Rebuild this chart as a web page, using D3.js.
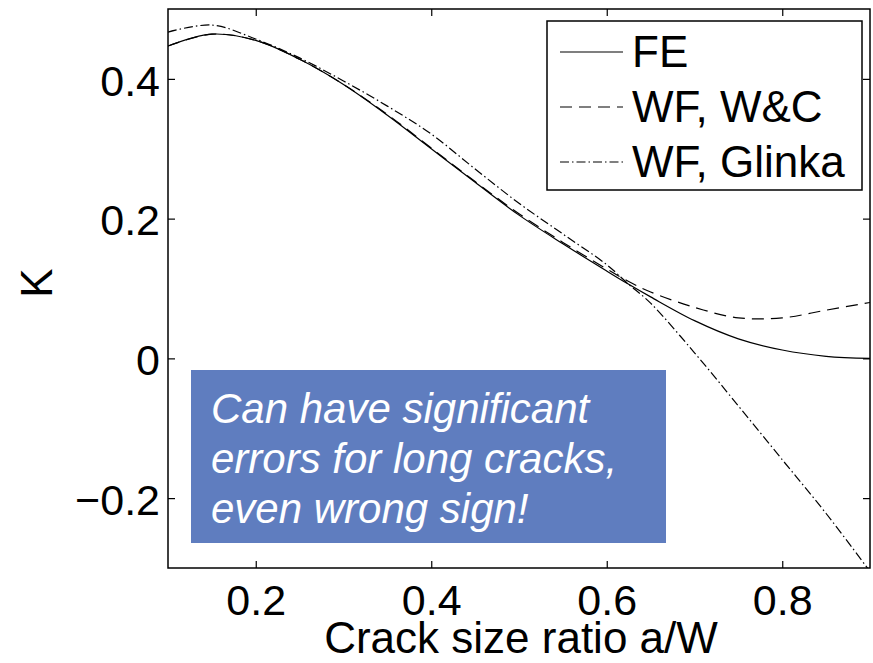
<!DOCTYPE html>
<html>
<head>
<meta charset="utf-8">
<script src="https://cdn.jsdelivr.net/npm/d3@7"></script>
<style>
  body { margin: 0; background: #fff; }
  svg { font-family: "Liberation Sans", Arial, Helvetica, sans-serif; }
  .tickLabels text { font-size: 43px; fill: #000; }
  .axisLabel { font-size: 44px; fill: #000; }
  .legendText { font-size: 44px; fill: #000; }
  .noteText { font-size: 42px; fill: #fff; font-style: italic; }
</style>
</head>
<body>
<div id="chart"></div>
<script>
// crack size ratio a/W
const crackRatio = [0.10, 0.15, 0.20, 0.25, 0.30, 0.35, 0.40, 0.45, 0.50, 0.55, 0.60, 0.625, 0.65, 0.70, 0.75, 0.80, 0.85, 0.90];

// K values
const kFE      = [0.447, 0.464, 0.455, 0.428, 0.392, 0.348, 0.300, 0.252, 0.205, 0.164, 0.125, 0.106, 0.088, 0.054, 0.028, 0.012, 0.003, 0.000];
const kWC      = [0.447, 0.464, 0.455, 0.428, 0.392, 0.349, 0.301, 0.253, 0.207, 0.166, 0.128, 0.110, 0.095, 0.073, 0.058, 0.058, 0.069, 0.080];
const kGlinka  = [0.467, 0.477, 0.457, 0.430, 0.397, 0.361, 0.321, 0.271, 0.222, 0.178, 0.134, 0.106, 0.079, 0.008, -0.068, -0.145, -0.222, -0.305];

const seriesNames = ["FE", "WF, W&C", "WF, Glinka"];
const seriesDash = ["none", "12,7", "9,3,1.5,3"];

const xTicks = [0.2, 0.4, 0.6, 0.8];
const yTicks = [-0.2, 0, 0.2, 0.4];

const noteLines = ["Can have significant", "errors for long cracks,", "even wrong sign!"];

const W = 873, H = 663;
const plot = { left: 168, right: 870, top: 9, bottom: 568 };

const svg = d3.select("#chart").append("svg")
    .attr("width", W)
    .attr("height", H);

const x = d3.scaleLinear().domain([0.1, 0.9]).range([plot.left, plot.right]);
const y = d3.scaleLinear().domain([-0.3, 0.5]).range([plot.bottom, plot.top]);

svg.append("clipPath").attr("id", "plotClip")
  .append("rect")
    .attr("x", plot.left).attr("y", plot.top)
    .attr("width", plot.right - plot.left).attr("height", plot.bottom - plot.top);

// axes, ticks pointing inwards on all four sides
const fmt = d3.format(".1f");
let bottomAxis = d3.axisBottom(x).tickValues(xTicks).tickFormat(d => fmt(d)).tickSizeInner(-7).tickSizeOuter(0).tickPadding(16);
let leftAxis = d3.axisLeft(y).tickValues(yTicks).tickFormat(d => d === 0 ? "0" : fmt(d)).tickSizeInner(-7).tickSizeOuter(0).tickPadding(8);
let topAxis = d3.axisTop(x).tickValues(xTicks).tickFormat("").tickSizeInner(-7).tickSizeOuter(0);
let rightAxis = d3.axisRight(y).tickValues(yTicks).tickFormat("").tickSizeInner(-7).tickSizeOuter(0);

svg.append("g").attr("class", "tickLabels").attr("transform", "translate(0," + plot.bottom + ")").call(bottomAxis);
svg.append("g").attr("class", "tickLabels").attr("transform", "translate(" + plot.left + ",0)").call(leftAxis)
    .selectAll("text").attr("dy", "0.38em");
svg.append("g").attr("transform", "translate(0," + plot.top + ")").call(topAxis);
svg.append("g").attr("transform", "translate(" + plot.right + ",0)").call(rightAxis);

svg.selectAll(".domain").remove();
svg.selectAll(".tick line").attr("stroke", "#000").attr("stroke-width", 1.2);
svg.selectAll(".tick text").attr("font-family", null).attr("font-size", null);

// frame
svg.append("rect")
    .attr("x", plot.left).attr("y", plot.top)
    .attr("width", plot.right - plot.left).attr("height", plot.bottom - plot.top)
    .attr("fill", "none").attr("stroke", "#000").attr("stroke-width", 1.5);

// curves
const allSeries = [kFE, kWC, kGlinka].map((vals, i) => ({
    name: seriesNames[i],
    dash: seriesDash[i],
    data: crackRatio.map((a, j) => ({ a: a, k: vals[j] }))
}));

const lineGen = d3.line()
    .x(d => x(d.a))
    .y(d => y(d.k))
    .curve(d3.curveCatmullRom.alpha(0.5));

svg.append("g").attr("clip-path", "url(#plotClip)")
  .selectAll(".curve").data(allSeries).join("path")
    .attr("class", "curve")
    .attr("d", d => lineGen(d.data))
    .attr("fill", "none")
    .attr("stroke", "#000")
    .attr("stroke-width", 1.2)
    .attr("stroke-dasharray", d => d.dash);

// axis labels
svg.append("text")
    .attr("class", "axisLabel")
    .attr("x", (plot.left + plot.right) / 2 + 2)
    .attr("y", 653)
    .attr("text-anchor", "middle")
    .text("Crack size ratio a/W");

svg.append("text")
    .attr("class", "axisLabel")
    .attr("transform", "translate(52," + 283 + ") rotate(-90)")
    .attr("text-anchor", "middle")
    .text("K");

// legend
const legend = svg.append("g");
legend.append("rect")
    .attr("x", 547).attr("y", 21).attr("width", 315).attr("height", 169)
    .attr("fill", "#fff").attr("stroke", "#000").attr("stroke-width", 1.5);

const rows = legend.selectAll(".legendRow").data(allSeries).join("g")
    .attr("class", "legendRow")
    .attr("transform", (d, i) => "translate(0," + (i * 55) + ")");
rows.append("line")
    .attr("x1", 560).attr("x2", 623).attr("y1", 52).attr("y2", 52)
    .attr("stroke", "#000").attr("stroke-width", 1.2)
    .attr("stroke-dasharray", d => d.dash);
rows.append("text")
    .attr("class", "legendText")
    .attr("x", 632).attr("y", 67)
    .text(d => d.name);

// annotation box
svg.append("rect")
    .attr("x", 191).attr("y", 370).attr("width", 475).attr("height", 173)
    .attr("fill", "#5f7dbf");
svg.selectAll(".noteText").data(noteLines).join("text")
    .attr("class", "noteText")
    .attr("x", 211)
    .attr("y", (d, i) => 423 + i * 50)
    .text(d => d);
</script>
</body>
</html>
